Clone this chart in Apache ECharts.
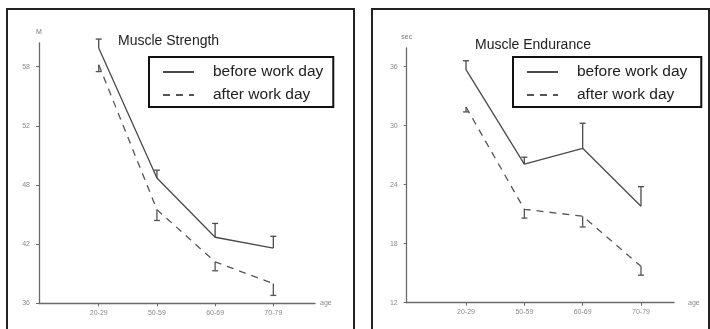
<!DOCTYPE html>
<html>
<head>
<meta charset="utf-8">
<script src="https://cdn.jsdelivr.net/npm/echarts@6/dist/echarts.min.js"></script>
<style>html,body{margin:0;padding:0;background:#fff}#c{width:710px;height:329px}</style>
</head>
<body>
<div id="c"></div>
<script>
const ageGroups = ['20-29', '50-59', '60-69', '70-79'];
const strengthBefore = [61.9, 48.7, 42.7, 41.6];
const strengthBeforeErr = [0.9, 0.8, 1.4, 1.2];
const strengthAfter = [60.2, 45.5, 40.2, 38.0];
const strengthAfterErr = [0.7, 1.1, 0.9, 1.2];
const enduranceBefore = [35.7, 26.1, 27.7, 21.8];
const enduranceBeforeErr = [0.9, 0.7, 2.55, 2.0];
const enduranceAfter = [31.9, 21.5, 20.8, 15.7];
const enduranceAfterErr = [0.5, 0.9, 1.1, 0.9];
const strengthTicks = [36, 42, 48, 54, 60];
const strengthTickLabels = ['36', '42', '48', '52', '58'];
const enduranceTicks = [12, 18, 24, 30, 36];
const enduranceTickLabels = ['12', '18', '24', '30', '36'];
const seriesNames = ['before work day', 'after work day'];

const chart = echarts.init(document.getElementById('c'), null, {renderer: 'canvas'});
const FONT = 'Liberation Sans, Arial, sans-serif';
const axisCol = '#6a6a6a';
const lblCol = '#8a8a8a';

function pts(arr) { return arr.map((v, i) => [i, v]); }
function errPts(arr, err, dir) { return arr.map((v, i) => [i, v, dir * err[i]]); }
function errSeries(idx, data, color) {
  return {
    type: 'custom', xAxisIndex: idx, yAxisIndex: idx, silent: true, z: 3,
    encode: {x: 0, y: 1},
    data: data,
    renderItem: function (params, api) {
      const x = api.value(0), v = api.value(1), e = api.value(2);
      const p0 = api.coord([x, v]);
      const p1 = api.coord([x, v + e]);
      const st = {stroke: color, lineWidth: 1.3};
      return {type: 'group', children: [
        {type: 'line', shape: {x1: p0[0], y1: p0[1], x2: p1[0], y2: p1[1]}, style: st},
        {type: 'line', shape: {x1: p1[0] - 3, y1: p1[1], x2: p1[0] + 3, y2: p1[1]}, style: st}
      ]};
    }
  };
}
function xAxisCfg(idx, min, max, gap) {
  return {
    type: 'value', gridIndex: idx, min: min, max: max,
    name: 'age', nameLocation: 'end', nameGap: gap,
    nameTextStyle: {color: lblCol, fontSize: 7, fontFamily: FONT},
    axisLine: {onZero: false, lineStyle: {color: axisCol, width: 1.3}},
    axisTick: {show: true, length: 3, lineStyle: {color: axisCol}, customValues: [0, 1, 2, 3]},
    axisLabel: {color: lblCol, fontSize: 7, fontFamily: FONT, margin: 6,
      customValues: [0, 1, 2, 3],
      formatter: v => ageGroups[Math.round(v)] || ''},
    splitLine: {show: false}
  };
}
function yAxisCfg(idx, min, max, ticks, labels, unit) {
  return {
    type: 'value', gridIndex: idx, min: min, max: max,
    name: unit, nameLocation: 'end', nameGap: 7,
    nameTextStyle: {color: '#777', fontSize: 7, fontFamily: FONT, align: 'center'},
    axisLine: {show: true, onZero: false, lineStyle: {color: axisCol, width: 1.3}},
    axisTick: {show: true, length: 3, lineStyle: {color: axisCol}, customValues: ticks},
    axisLabel: {color: lblCol, fontSize: 7, fontFamily: FONT, margin: 9,
      padding: [0, 0, 9, 0],
      customValues: ticks,
      formatter: v => { const i = ticks.indexOf(v); return i >= 0 ? labels[i] : ''; }},
    splitLine: {show: false}
  };
}
const solid = {color: '#4a4a4a', width: 1.3, type: 'solid'};
const dashed = {color: '#555', width: 1.3, type: [7, 6]};

function legendCfg(left, rightPad) {
  return {
    data: seriesNames, orient: 'vertical', left: left, top: 57,
    padding: [7, rightPad, 4, 13], itemGap: 7, itemWidth: 31, itemHeight: 14,
    borderColor: '#111', borderWidth: 2, backgroundColor: '#fff',
    selectedMode: false,
    itemStyle: {color: 'rgba(0,0,0,0)', opacity: 0, borderWidth: 0},
    textStyle: {color: '#222', fontSize: 15.5, fontFamily: FONT, padding: [0, 0, 0, 14]}
  };
}

chart.setOption({
  animation: false,
  backgroundColor: '#fff',
  title: [
    {text: 'Muscle Strength', left: 113, top: 29, textStyle: {fontSize: 14, fontWeight: 'normal', color: '#222', fontFamily: FONT}},
    {text: 'Muscle Endurance', left: 470, top: 33, textStyle: {fontSize: 14, fontWeight: 'normal', color: '#222', fontFamily: FONT}}
  ],
  legend: [legendCfg(149, 10), legendCfg(513, 14)],
  grid: [
    {left: 39, top: 43, width: 276, height: 260.3},
    {left: 406.7, top: 48, width: 267.3, height: 254.7}
  ],
  xAxis: [xAxisCfg(0, -1.026, 3.716, 5), xAxisCfg(1, -1.017, 3.566, 14)],
  yAxis: [
    yAxisCfg(0, 36, 62.4, strengthTicks, strengthTickLabels, 'M'),
    yAxisCfg(1, 12, 37.9, enduranceTicks, enduranceTickLabels, 'sec')
  ],
  graphic: [
    {type: 'rect', shape: {x: 7, y: 9, width: 347, height: 340}, style: {fill: 'none', stroke: '#222', lineWidth: 2}, silent: true, z: -1},
    {type: 'rect', shape: {x: 372, y: 9, width: 337, height: 340}, style: {fill: 'none', stroke: '#222', lineWidth: 2}, silent: true, z: -1}
  ],
  series: [
    {name: seriesNames[0], type: 'line', xAxisIndex: 0, yAxisIndex: 0, data: pts(strengthBefore), symbol: 'none', lineStyle: solid, itemStyle: {color: '#4a4a4a'}},
    {name: seriesNames[1], type: 'line', xAxisIndex: 0, yAxisIndex: 0, data: pts(strengthAfter), symbol: 'none', lineStyle: dashed, itemStyle: {color: '#555'}},
    {name: seriesNames[0], type: 'line', xAxisIndex: 1, yAxisIndex: 1, data: pts(enduranceBefore), symbol: 'none', lineStyle: solid, itemStyle: {color: '#4a4a4a'}},
    {name: seriesNames[1], type: 'line', xAxisIndex: 1, yAxisIndex: 1, data: pts(enduranceAfter), symbol: 'none', lineStyle: dashed, itemStyle: {color: '#555'}},
    errSeries(0, errPts(strengthBefore, strengthBeforeErr, 1), '#4a4a4a'),
    errSeries(0, errPts(strengthAfter, strengthAfterErr, -1), '#555'),
    errSeries(1, errPts(enduranceBefore, enduranceBeforeErr, 1), '#4a4a4a'),
    errSeries(1, errPts(enduranceAfter, enduranceAfterErr, -1), '#555')
  ]
});
</script>
</body>
</html>
